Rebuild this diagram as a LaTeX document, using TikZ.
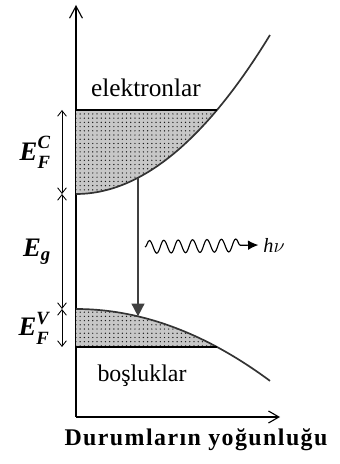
\documentclass[tikz,border=0pt]{standalone}
\usepackage{amsmath}
\usepackage{fontspec}
\setmainfont{Liberation Serif}
\usetikzlibrary{arrows.meta,patterns,decorations.pathmorphing}

\newcommand{\bit}[1]{\textbf{\textit{#1}}}

\begin{document}
\begin{tikzpicture}[band/.style = {draw=black!80, line width=1.2pt}, lvl/.style = {{Straight Barb[length=1.4mm,width=2.2mm]}-{Straight Barb[length=1.4mm,width=2.2mm]}, line width=0.6pt}, filled/.style = {pattern=dots, pattern color=black!90}, lbl/.style = {font=\fontsize{19}{21}\selectfont}]
    \useasboundingbox (0,0) rectangle (8.5,11.6);

    % axes
    \coordinate (O) at (1.9,1.175);
    \coordinate (ytop) at (1.9,11.475);
    \coordinate (xend) at (7.0,1.175);
    \draw[line width=0.8pt, -{Straight Barb[length=3mm,width=3.2mm]}] (O) -- (ytop);
    \draw[line width=0.8pt, -{Straight Barb[length=2.6mm,width=3mm]}] (O) -- (xend);

    % filled states
    \fill[black!22] (1.9,8.85) -- (1.9,6.75) -- plot[domain=1.9:5.425, samples=40] (\x,{6.75+0.169*(\x-1.9)^2}) -- cycle;
    \fill[filled] (1.9,8.85) -- (1.9,6.75) -- plot[domain=1.9:5.425, samples=40] (\x,{6.75+0.169*(\x-1.9)^2}) -- cycle;
    \fill[black!22] (1.9,2.925) -- (1.9,3.875) -- plot[domain=1.9:5.425, samples=40] (\x,{3.875-0.0764*(\x-1.9)^2}) -- cycle;
    \fill[filled] (1.9,2.925) -- (1.9,3.875) -- plot[domain=1.9:5.425, samples=40] (\x,{3.875-0.0764*(\x-1.9)^2}) -- cycle;

    % bands
    \draw[band] plot[domain=1.9:6.75, samples=60] (\x,{6.75+0.169*(\x-1.9)^2});
    \draw[band] plot[domain=1.9:6.75, samples=60] (\x,{3.875-0.0764*(\x-1.9)^2});
    \draw[line width=0.8pt] (1.9,8.85) -- (5.425,8.85);
    \draw[line width=0.8pt] (1.9,2.925) -- (5.425,2.925);

    % levels
    \coordinate (c1) at (1.55,8.85);
    \coordinate (c2) at (1.55,6.75);
    \coordinate (v1) at (1.55,3.875);
    \coordinate (v2) at (1.55,2.925);
    \draw[lvl] (c1) -- node[left=1.5mm, lbl] {$\bit{E}_{\text{\raisebox{-1.5pt}{\bit{F}}}}^{\text{\raisebox{1.5pt}{\bit{C}}}}$} (c2);
    \draw[lvl] (c2) -- node[left=1.5mm, lbl] {$\bit{E}_{\bit{g}}$} (v1);
    \draw[lvl] (v1) -- node[left=1.5mm, lbl] {$\bit{E}_{\text{\raisebox{-1.5pt}{\bit{F}}}}^{\text{\raisebox{1.5pt}{\bit{V}}}}$} (v2);

    % transition
    \coordinate (cb) at (3.45,7.156);
    \coordinate (vb) at (3.45,3.69);
    \draw[line width=1.2pt, black!75, -{Triangle[length=3.2mm,width=3.2mm]}] (cb) -- (vb);

    \node (hv) at (6.85,5.475) {\Large\textit{h}$\nu$};
    \coordinate (w) at (3.625,5.425);
    \draw[line width=0.8pt, decorate, decoration={snake, amplitude=1.6mm, segment length=3.6mm, post length=3mm}, -{Latex[length=2.6mm,width=2.4mm]}] (w) -- (hv.west);

    \node (el) at (3.65,9.4) {\fontsize{18}{20}\selectfont elektronlar};
    \node (bo) at (3.55,2.2) {\fontsize{17}{20}\selectfont boşluklar};
    \node (dos) at (4.9,0.6) {\fontsize{17}{20}\selectfont\bfseries\addfontfeature{LetterSpace=6}Durumların yoğunluğu};
\end{tikzpicture}
\end{document}
